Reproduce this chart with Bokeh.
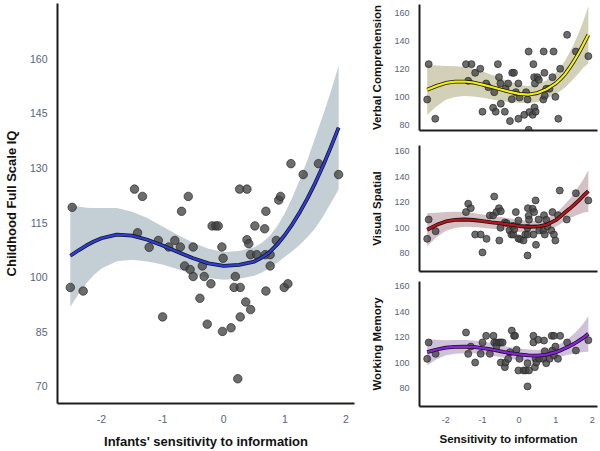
import numpy as np
from bokeh.plotting import figure
from bokeh.layouts import row, column
from bokeh.models import Range1d, FixedTicker
from bokeh.embed import file_html
from bokeh.resources import INLINE

# ---------------- data ----------------
# Full-scale IQ against infants' sensitivity to information
main_x = [-2.51, -2.48, -2.30, -1.46, -1.41, -1.33, -1.22, -1.07, -1.00, -0.90,
          -0.80, -0.71, -0.69, -0.64, -0.58, -0.55, -0.50, -0.50, -0.39, -0.35,
          -0.32, -0.27, -0.21, -0.19, -0.13, -0.09, -0.03, -0.01, -0.02, 0.12,
          0.17, 0.19, 0.23, 0.26, 0.27, 0.27, 0.36, 0.38, 0.38, 0.41,
          0.44, 0.44, 0.51, 0.54, 0.67, 0.68, 0.69, 0.69, 0.76, 0.76,
          0.86, 0.90, 0.93, 0.99, 1.05, 1.10, 1.30, 1.55, 1.88]
main_y = [97.2, 119.2, 96.2, 124.2, 112.2, 122.2, 108.2, 110.1, 89.1, 108.3,
          110.1, 108.3, 118.1, 103.1, 122.2, 102.1, 108.3, 100.2, 94.2, 103.1,
          100.2, 87.1, 98.2, 114.1, 114.1, 114.1, 108.3, 105.2, 85.1, 86.1,
          97.2, 100.2, 72.1, 124.2, 97.2, 89.1, 93.2, 124.2, 110.3, 109.2,
          106.2, 91.1, 114.1, 106.2, 113.3, 106.2, 118.1, 96.2, 106.2, 103.1,
          110.1, 121.2, 122.2, 97.2, 98.2, 131.2, 128.2, 131.2, 128.2]

# cubic trend and its 95% interval (half-width) for the main panel
main_fit_x = [-2.51, -2.375, -2.25, -2.125, -2.0, -1.75, -1.5, -1.25, -1.0, -0.75,
              -0.5, -0.25, 0.0, 0.25, 0.5, 0.625, 0.75, 0.875, 1.0, 1.125,
              1.25, 1.375, 1.5, 1.625, 1.75, 1.88]
main_fit = [105.9, 107.4, 108.7, 109.8, 110.7, 111.7, 111.4, 110.3, 108.7, 106.9,
            105.2, 103.8, 103.1, 103.4, 104.3, 105.4, 106.9, 109.0, 111.6, 114.6,
            118.0, 121.8, 126.0, 130.6, 135.6, 141.1]
main_hw = [14.0, 12.0, 10.4, 9.2, 8.3, 7.3, 6.6, 6.0, 5.2, 4.7,
           4.3, 4.0, 3.8, 3.8, 3.9, 4.1, 4.4, 5.0, 6.0, 7.4,
           9.0, 10.7, 12.5, 13.9, 15.3, 17.0]

# Verbal comprehension
vc_x = [-2.51, -2.47, -2.29, -1.45, -1.39, -1.30, -1.20, -1.06, -1.00, -0.90,
        -0.84, -0.71, -0.68, -0.64, -0.58, -0.55, -0.51, -0.50, -0.39, -0.37,
        -0.30, -0.25, -0.20, -0.19, -0.14, -0.09, -0.02, -0.02, 0.01, 0.14,
        0.19, 0.23, 0.26, 0.26, 0.28, 0.37, 0.39, 0.41, 0.42, 0.43,
        0.45, 0.50, 0.54, 0.66, 0.67, 0.69, 0.70, 0.74, 0.83, 0.91,
        0.94, 0.99, 1.07, 1.12, 1.31, 1.55, 1.89]
vc_y = [98.5, 123.7, 84.8, 123.7, 111.8, 123.7, 117.5, 120.4, 89.8, 109.9,
        107.3, 92.6, 103.7, 89.8, 123.7, 114.4, 109.9, 95.5, 89.8, 106.4,
        109.9, 83.1, 98.7, 117.5, 117.5, 103.7, 109.9, 84.8, 99.9, 87.6,
        103.7, 98.5, 132.7, 76.9, 89.5, 87.6, 123.7, 114.4, 92.8, 109.9,
        89.8, 114.4, 112.5, 98.5, 132.7, 117.5, 101.2, 106.1, 106.1, 114.4,
        132.7, 100.4, 84.8, 120.4, 144.6, 132.7, 129.4]

# Visual spatial
vs_x = [-2.51, -2.47, -2.28, -1.45, -1.39, -1.32, -1.20, -1.05, -1.00, -0.89,
        -0.80, -0.71, -0.68, -0.62, -0.55, -0.54, -0.51, -0.50, -0.39, -0.34,
        -0.26, -0.21, -0.17, -0.16, -0.13, -0.09, -0.02, -0.02, 0.03, 0.12,
        0.17, 0.23, 0.23, 0.23, 0.24, 0.26, 0.27, 0.37, 0.39, 0.41,
        0.45, 0.46, 0.53, 0.55, 0.66, 0.68, 0.70, 0.74, 0.77, 0.88,
        0.91, 0.95, 0.99, 1.06, 1.11, 1.30, 1.55, 1.89]
vs_y = [91.3, 106.5, 97.3, 112.3, 118.9, 115.4, 94.7, 94.7, 80.6, 91.3,
        109.7, 109.7, 124.6, 112.3, 115.4, 90.0, 100.0, 113.0, 104.2, 103.6,
        97.9, 94.7, 101.5, 94.7, 98.9, 112.3, 105.7, 91.6, 91.0, 90.0,
        94.7, 94.7, 100.0, 78.2, 115.4, 109.4, 106.3, 114.9, 94.7, 112.3,
        121.5, 86.6, 106.5, 97.9, 97.9, 109.9, 94.7, 106.3, 101.0, 97.9,
        112.3, 94.7, 90.0, 109.9, 129.3, 106.5, 127.2, 121.5]

# Working memory
wm_x = [-2.51, -2.47, -2.28, -1.45, -1.39, -1.32, -1.20, -1.05, -1.00, -0.90,
        -0.80, -0.70, -0.68, -0.62, -0.62, -0.55, -0.50, -0.50, -0.45, -0.39,
        -0.37, -0.30, -0.25, -0.20, -0.14, -0.11, -0.07, -0.02, 0.01, 0.12,
        0.18, 0.23, 0.23, 0.27, 0.39, 0.39, 0.43, 0.45, 0.47, 0.52,
        0.55, 0.66, 0.68, 0.70, 0.74, 0.83, 0.89, 0.91, 0.95, 0.95,
        0.99, 1.06, 1.12, 1.31, 1.55, 1.89]
wm_y = [103.2, 116.0, 107.1, 123.8, 107.1, 112.8, 100.3, 107.1, 116.0, 121.2,
        107.1, 121.2, 116.0, 116.0, 112.8, 116.0, 116.0, 100.3, 116.0, 96.7,
        100.3, 103.2, 108.4, 125.3, 121.2, 121.2, 110.3, 94.1, 103.2, 94.1,
        94.1, 99.8, 81.6, 94.1, 121.2, 116.0, 96.7, 103.2, 100.3, 118.1,
        103.2, 103.2, 117.5, 109.2, 99.8, 103.2, 121.2, 109.7, 121.2, 105.8,
        112.8, 103.2, 121.2, 116.0, 109.7, 117.8]

# cubic trends and interval half-widths for the three subscales
sub_fit_x = [-2.51, -2.25, -2.0, -1.75, -1.5, -1.25, -1.0, -0.75, -0.5, -0.25,
             0.0, 0.25, 0.5, 0.75, 1.0, 1.125, 1.25, 1.375, 1.5, 1.625,
             1.75, 1.89]
vc_fit = [105.4, 108.2, 110.3, 111.2, 111.3, 110.6, 109.1, 107.4, 105.6, 103.9,
          102.5, 102.0, 103.1, 105.8, 110.0, 113.0, 116.5, 121.0, 126.0, 131.5,
          137.6, 144.6]
vc_hw = [17.8, 14.5, 12.0, 11.0, 10.3, 10.0, 9.3, 8.7, 8.1, 7.2,
         6.4, 6.1, 6.3, 6.4, 7.6, 8.5, 9.5, 10.8, 12.3, 14.3,
         16.5, 20.5]
vs_fit = [98.4, 102.3, 105.0, 106.2, 106.5, 106.1, 105.2, 104.3, 103.5, 102.5,
          101.4, 100.8, 101.0, 102.4, 106.0, 108.8, 112.0, 114.9, 118.0, 121.4,
          125.0, 128.8]
vs_hw = [13.0, 9.5, 7.3, 6.3, 5.8, 5.5, 5.2, 5.0, 4.9, 4.7,
         4.7, 4.6, 4.6, 4.8, 5.2, 5.8, 6.5, 7.6, 9.0, 11.0,
         13.0, 16.5]
wm_fit = [108.4, 110.5, 111.9, 112.6, 112.8, 112.6, 111.6, 110.5, 109.1, 107.7,
          106.7, 105.9, 105.7, 106.5, 108.4, 109.8, 111.4, 113.1, 115.0, 117.2,
          119.6, 122.8]
wm_hw = [10.2, 7.6, 5.9, 5.4, 5.2, 5.0, 4.9, 4.8, 4.7, 4.6,
         4.5, 4.5, 4.5, 4.6, 4.9, 5.2, 5.6, 6.6, 7.8, 9.3,
         11.0, 14.0]

main_yticks = [70, 85, 100, 115, 130, 145, 160]
sub_yticks = [80, 100, 120, 140, 160]
xticks = [-2, -1, 0, 1, 2]
xtick_labels = {-2: "-2", -1: "-1", 0: "0", 1: "1", 2: "2"}

# ---------------- styling ----------------
FONT = "Liberation Sans"
TICK_COLOR = "#56637a"
AXIS_COLOR = "#1c1c1c"
X_RANGE = (-2.72, 2.14)


def base_figure(width, height, y_rng, borders, show_x_labels=True):
    left, right, top, bottom = borders
    p = figure(width=width, height=height,
               x_range=Range1d(*X_RANGE), y_range=Range1d(*y_rng),
               output_backend="svg", toolbar_location=None,
               min_border_left=left, min_border_right=right,
               min_border_top=top, min_border_bottom=bottom)
    p.xgrid.visible = False
    p.ygrid.visible = False
    p.outline_line_color = None
    p.background_fill_color = "white"
    p.border_fill_color = "white"
    for ax in (p.xaxis[0], p.yaxis[0]):
        ax.axis_line_color = AXIS_COLOR
        ax.axis_line_width = 2
        ax.major_tick_line_color = None
        ax.minor_tick_line_color = None
        ax.major_tick_out = 0
        ax.major_tick_in = 0
        ax.minor_tick_out = 0
        ax.minor_tick_in = 0
        ax.major_label_text_font = FONT
        ax.major_label_text_color = TICK_COLOR
        ax.axis_label_text_font = FONT
        ax.axis_label_text_font_style = "bold"
        ax.axis_label_text_color = "#111111"
    if show_x_labels:
        p.xaxis[0].ticker = FixedTicker(ticks=xticks)
        p.xaxis[0].major_label_overrides = xtick_labels
    else:
        p.xaxis[0].ticker = FixedTicker(ticks=[])
        p.xaxis[0].major_label_standoff = 0
    return p


def draw_fit(p, xs, ys, fx, fy, hw, band_color, line_color, dot_size):
    lo = [a - b for a, b in zip(fy, hw)]
    hi = [a + b for a, b in zip(fy, hw)]
    p.varea(x=fx, y1=lo, y2=hi, fill_color=band_color, fill_alpha=1.0)
    p.scatter(xs, ys, size=dot_size, fill_color="#444444", fill_alpha=0.78,
              line_color="#262626", line_alpha=0.85, line_width=0.8)
    p.line(fx, fy, line_color="#151515", line_width=3.8)
    p.line(fx, fy, line_color=line_color, line_width=2.2)


# ---------------- main panel ----------------
main = base_figure(368, 451, (65.3, 175.2), (53, 14, 3, 48))
main.yaxis[0].ticker = FixedTicker(ticks=main_yticks)
main.xaxis[0].axis_label = "Infants' sensitivity to information"
main.yaxis[0].axis_label = "Childhood Full Scale IQ"
for ax in (main.xaxis[0], main.yaxis[0]):
    ax.major_label_text_font_size = "10.5px"
    ax.axis_label_text_font_size = "13px"
main.yaxis[0].major_label_standoff = 10
main.yaxis[0].axis_label_standoff = 8
main.xaxis[0].major_label_standoff = 11
main.xaxis[0].axis_label_standoff = 8
draw_fit(main, main_x, main_y, main_fit_x, main_fit, main_hw,
         "#c3ced5", "#2d3de0", 8.5)

# ---------------- side panels ----------------
side_specs = [
    ("Verbal Comprehension", 138, (76.4, 166.2), (49, 3, 4, 8),
     vc_x, vc_y, vc_fit, vc_hw, "#d2d0b6", "#f4ee00", False),
    ("Visual Spatial", 138, (65.6, 164.7), (49, 3, 7, 5),
     vs_x, vs_y, vs_fit, vs_hw, "#d3c1c5", "#c0141c", False),
    ("Working Memory", 175, (65.9, 163.7), (49, 3, 5, 45),
     wm_x, wm_y, wm_fit, wm_hw, "#cfc1da", "#8a22e6", True),
]

side_panels = []
for (label, h, yr, borders, xs, ys, fy, hw, band, col, show_x) in side_specs:
    p = base_figure(232, h, yr, borders, show_x_labels=show_x)
    p.yaxis[0].ticker = FixedTicker(ticks=sub_yticks)
    p.yaxis[0].axis_label = label
    p.yaxis[0].axis_label_text_font_size = "11.5px"
    p.yaxis[0].major_label_text_font_size = "9px"
    p.yaxis[0].major_label_standoff = 10
    p.yaxis[0].axis_label_standoff = 8
    if show_x:
        p.xaxis[0].axis_label = "Sensitivity to information"
        p.xaxis[0].axis_label_text_font_size = "11.5px"
        p.xaxis[0].major_label_text_font_size = "9px"
        p.xaxis[0].major_label_standoff = 10
        p.xaxis[0].axis_label_standoff = 7
    draw_fit(p, xs, ys, sub_fit_x, fy, hw, band, col, 7)
    side_panels.append(p)

layout = row(main, column(*side_panels, spacing=0), spacing=0)

open("out.html", "w").write(file_html(layout, INLINE))
